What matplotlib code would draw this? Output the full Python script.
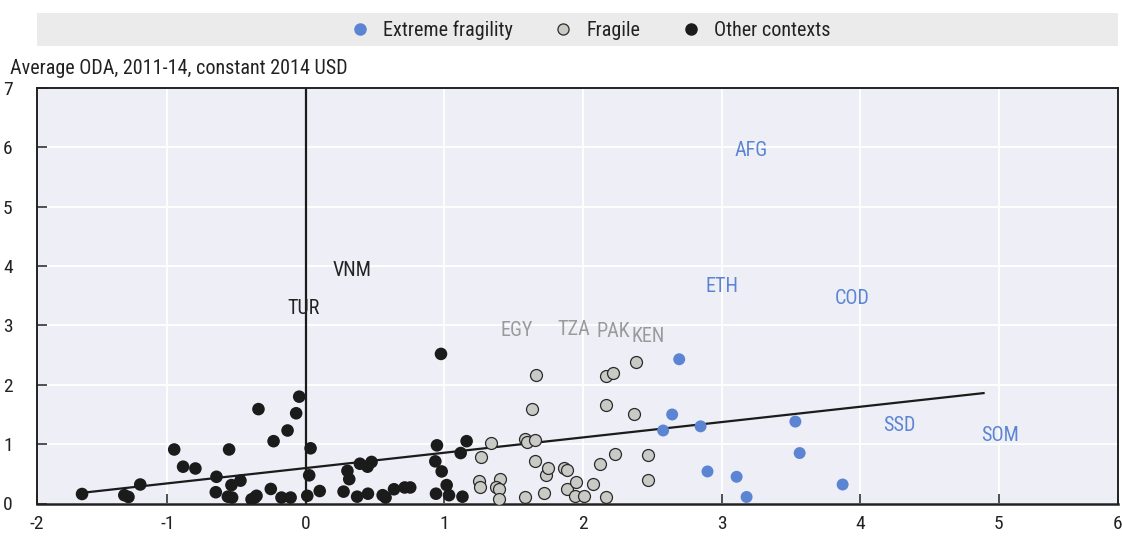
import matplotlib
matplotlib.use("Agg")
import matplotlib.pyplot as plt
from matplotlib.lines import Line2D
from matplotlib.patches import Rectangle
from matplotlib import font_manager

# Prefer a narrow sans face when present
_names = {f.name for f in font_manager.fontManager.ttflist}
_family = [n for n in ["Liberation Sans Narrow", "Roboto Condensed", "Roboto", "DejaVu Sans"] if n in _names]
plt.rcParams["font.family"] = _family

# ---- data -------------------------------------------------------------
extreme_x = [2.694, 2.643, 2.578, 2.848, 3.532, 3.563, 2.898, 3.108, 3.180, 3.873]
extreme_y = [2.43, 1.50, 1.23, 1.30, 1.38, 0.85, 0.54, 0.45, 0.11, 0.32]

fragile_x = [1.336, 1.266, 1.247, 1.257, 1.403, 1.372, 1.396, 1.391, 1.580, 1.584,
             1.594, 1.654, 1.635, 1.654, 1.721, 1.733, 1.750, 1.860, 1.883, 1.883,
             1.952, 1.943, 2.008, 2.070, 2.120, 1.660, 2.380, 2.165, 2.217, 2.165,
             2.370, 2.231, 2.468, 2.165, 2.472]
fragile_y = [1.02, 0.78, 0.385, 0.28, 0.42, 0.27, 0.25, 0.075, 0.11, 1.08,
             1.04, 1.07, 1.59, 0.71, 0.17, 0.475, 0.59, 0.60, 0.565, 0.245,
             0.37, 0.12, 0.126, 0.33, 0.66, 2.17, 2.39, 2.15, 2.195, 1.655,
             1.51, 0.835, 0.82, 0.11, 0.40]

other_x = [-1.615, -1.310, -1.280, -1.195, -0.950, -0.886, -0.797, -0.645, -0.650, -0.554,
           -0.537, -0.472, -0.563, -0.532, -0.392, -0.356, -0.368, -0.342, -0.253, -0.233,
           -0.176, -0.110, -0.132, -0.070, -0.048, 0.010, 0.034, 0.024, 0.100, 0.272,
           0.300, 0.313, 0.370, 0.390, 0.445, 0.474, 0.448, 0.554, 0.575, 0.636,
           0.713, 0.753, 0.939, 0.934, 0.946, 0.980, 1.016, 1.033, 1.117, 1.160,
           1.130, 0.975]
other_y = [0.16, 0.14, 0.11, 0.32, 0.91, 0.62, 0.59, 0.45, 0.19, 0.91,
           0.31, 0.385, 0.115, 0.10, 0.07, 0.13, 0.10, 1.59, 0.245, 1.05,
           0.10, 0.10, 1.23, 1.52, 1.80, 0.13, 0.93, 0.475, 0.21, 0.20,
           0.55, 0.41, 0.115, 0.67, 0.62, 0.70, 0.165, 0.14, 0.10, 0.24,
           0.27, 0.27, 0.165, 0.71, 0.98, 0.54, 0.31, 0.14, 0.85, 1.05,
           0.115, 2.52]

# Fitted trend line endpoints
trend_x = [-1.615, 4.89]
trend_y = [0.18, 1.86]

# Country labels: (code, x, y, group)
label_codes = ["AFG", "ETH", "COD", "SSD", "SOM", "EGY", "TZA", "PAK", "KEN", "VNM", "TUR"]
label_x = [3.21, 3.00, 3.94, 4.28, 5.01, 1.52, 1.93, 2.22, 2.47, 0.33, -0.02]
label_y = [5.94, 3.65, 3.45, 1.32, 1.14, 2.91, 2.93, 2.89, 2.82, 3.92, 3.28]
label_group = ["extreme"] * 5 + ["fragile"] * 4 + ["other"] * 2

x_tick_labels = ["-2", "-1", "0", "1", "2", "3", "4", "5", "6"]
y_ticks = [0, 1, 2, 3, 4, 5, 6, 7]

# ---- style ------------------------------------------------------------
BLUE = "#5b85d2"
GREY_FILL = "#c9c9c5"
BLACK = "#1b1b1b"
LABEL_GREY = "#9a9a9a"
BG = "#eeeef7"
group_color = {"extreme": BLUE, "fragile": LABEL_GREY, "other": "#222222"}
FS = 14.5

W, H = 1122, 537
fig = plt.figure(figsize=(W / 100, H / 100), dpi=100)
ax = fig.add_axes([37 / W, 1 - 503.5 / H, (1118 - 37) / W, (503.5 - 88) / H])
ax.set_facecolor(BG)

xlim = (-1.94, 5.86)
ax.set_xlim(*xlim)
ax.set_ylim(0, 7)

ax.grid(True, color="white", lw=1.3, zorder=0)
ax.set_axisbelow(True)

x_tick_pos = [xlim[0]] + list(range(-1, 6)) + [xlim[1]]
ax.set_xticks(x_tick_pos)
ax.set_xticklabels(x_tick_labels)
ax.set_yticks(y_ticks)
ax.tick_params(axis="both", direction="in", length=7, width=1.2, color="#333333",
               labelsize=14, labelcolor="#222222")
ax.tick_params(axis="x", pad=8)
for lbl in ax.get_yticklabels():
    lbl.set_horizontalalignment("center")
ax.tick_params(axis="y", pad=21)

for s in ax.spines.values():
    s.set_color("#222222")
    s.set_linewidth(1.4)
ax.spines["bottom"].set_linewidth(1.8)

# vertical reference at zero
ax.plot([0, 0], [0, 7], color=BLACK, lw=1.6, zorder=2)
# trend line
ax.plot(trend_x, trend_y, color=BLACK, lw=1.6, zorder=2)

ax.scatter(other_x, other_y, s=82, color=BLACK, edgecolor="none", zorder=3)
ax.scatter(fragile_x, fragile_y, s=74, color=GREY_FILL, edgecolor="#2a2a2a", lw=0.9, zorder=3)
ax.scatter(extreme_x, extreme_y, s=74, color=BLUE, edgecolor="none", zorder=4)

for code, lx, ly, g in zip(label_codes, label_x, label_y, label_group):
    ax.text(lx, ly, code, color=group_color[g], fontsize=FS, ha="center", va="center", zorder=5)

# axis title
fig.text(10 / W, 1 - 68 / H, "Average ODA, 2011-14, constant 2014 USD",
         fontsize=FS, color="#222222", ha="left", va="center")

# legend band
fig.patches.append(Rectangle((37 / W, 1 - 46 / H), (1118 - 37) / W, 33 / H,
                             transform=fig.transFigure, facecolor="#ebebeb",
                             edgecolor="none", zorder=0))
handles = [
    Line2D([], [], ls="none", marker="o", ms=8, mfc=BLUE, mec=BLUE),
    Line2D([], [], ls="none", marker="o", ms=8, mfc=GREY_FILL, mec="#2a2a2a", mew=0.9),
    Line2D([], [], ls="none", marker="o", ms=8, mfc=BLACK, mec=BLACK),
]
fig.legend(handles, ["Extreme fragility", "Fragile", "Other contexts"],
           loc="center", bbox_to_anchor=(588 / W, 1 - 30 / H), ncol=3,
           frameon=False, fontsize=FS, handletextpad=0.45, columnspacing=1.8,
           handlelength=1.4, labelcolor="#222222")

fig.savefig("out.png", dpi=100)
